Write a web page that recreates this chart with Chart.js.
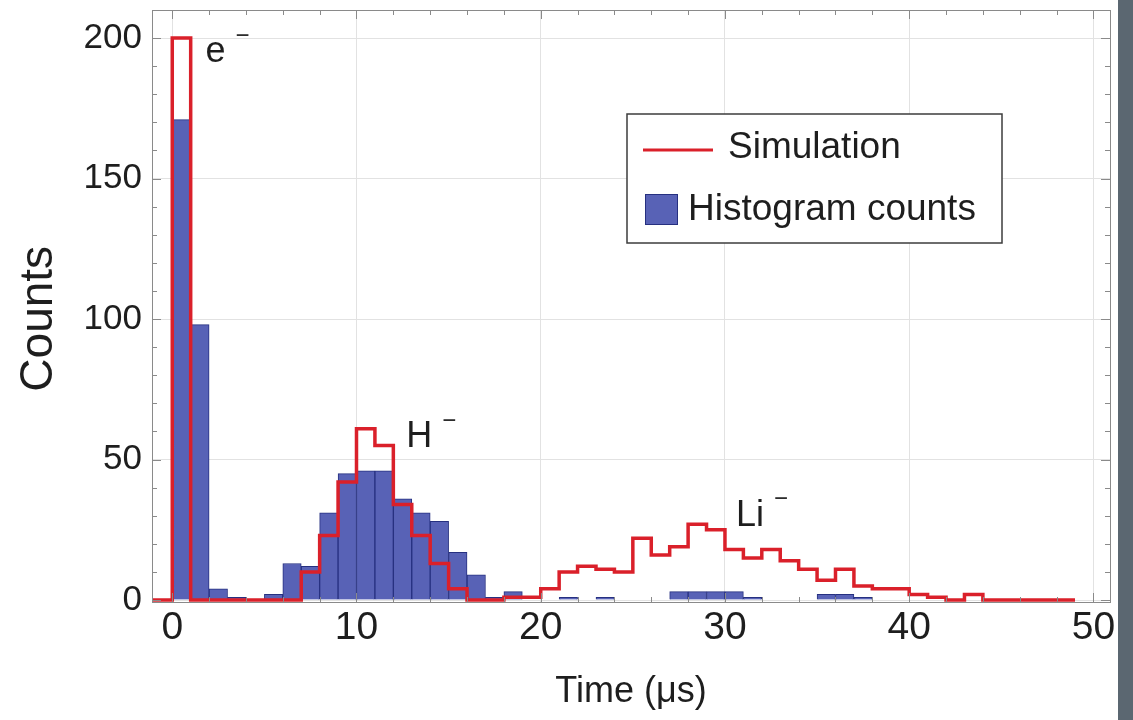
<!DOCTYPE html>
<html>
<head>
<meta charset="utf-8">
<script src="https://cdn.jsdelivr.net/npm/chart.js@4.4.1/dist/chart.umd.min.js"></script>
<style>
  html, body { margin: 0; padding: 0; background: #5b6771; }
  #wrap { width: 1118px; height: 720px; background: #fff; position: relative; }
</style>
</head>
<body>
<div id="wrap"><canvas id="tofChart"></canvas></div>
<script>
// 1 us wide bins, value i belongs to [binStarts[i], binStarts[i] + 1]
const binStarts = [0, 1, 2, 3, 4, 5, 6, 7, 8, 9, 10, 11, 12, 13, 14, 15, 16, 17, 18, 19,
  20, 21, 22, 23, 24, 25, 26, 27, 28, 29, 30, 31, 32, 33, 34, 35, 36, 37, 38, 39,
  40, 41, 42, 43, 44, 45, 46, 47, 48];
const histCounts = [171, 98, 4, 1, 0, 2, 13, 12, 31, 45, 46, 46, 36, 31, 28, 17, 9, 1, 3, 0,
  0, 1, 0, 1, 0, 0, 0, 3, 3, 3, 3, 1, 0, 0, 0, 2, 2, 1, 0, 0,
  0, 0, 0, 0, 0, 0, 0, 0, 0];
const simCounts = [200, 0, 0, 0, 0, 0, 0, 10, 23, 42, 61, 55, 34, 23, 13, 4, 0, 0, 1, 1,
  4, 10, 12, 11, 10, 22, 16, 19, 27, 25, 18, 15, 18, 14, 11, 7, 11, 5, 4, 4,
  2, 1, 0, 2, 0, 0, 0, 0, 0];
const simFrom = -2;   // simulation curve runs in from the left edge at zero
const simTo = 49;

const xTicks = [0, 2, 4, 6, 8, 10, 12, 14, 16, 18, 20, 22, 24, 26, 28, 30, 32, 34, 36, 38, 40, 42, 44, 46, 48, 50];
const yTicks = [0, 10, 20, 30, 40, 50, 60, 70, 80, 90, 100, 110, 120, 130, 140, 150, 160, 170, 180, 190, 200, 210];

const peakNames = ['e', 'H', 'Li'];
const peakX = [1.8, 12.7, 30.6];
const peakY = [195, 58, 30];

const RED = 'rgb(218, 32, 42)';
const BLUE = 'rgb(88, 98, 182)';
const NAVY = 'rgb(38, 48, 128)';
const FRAME = '#8a8a8a';
const FONT = '"Liberation Sans", Arial, sans-serif';

const histData = binStarts.map((b, i) => ({ x: b + 0.5, y: histCounts[i] }));
const simData = [{ x: simFrom, y: 0 }]
  .concat(binStarts.map((b, i) => ({ x: b, y: simCounts[i] })))
  .concat([{ x: simTo, y: 0 }]);

// frame with inward ticks, peak labels and the legend box
const framePlugin = {
  id: 'frame',
  afterDatasetsDraw(chart) {
    const { ctx, chartArea: a, scales } = chart;
    const xs = scales.x, ys = scales.y;
    ctx.save();
    ctx.strokeStyle = FRAME;
    ctx.lineWidth = 1;
    ctx.beginPath();
    xTicks.forEach(v => {
      const px = Math.round(xs.getPixelForValue(v)) + 0.5;
      const len = v % 10 === 0 ? 9 : 5;
      ctx.moveTo(px, a.bottom); ctx.lineTo(px, a.bottom - len);
      ctx.moveTo(px, a.top); ctx.lineTo(px, a.top + len);
    });
    yTicks.forEach(v => {
      const py = Math.round(ys.getPixelForValue(v)) + 0.5;
      const len = v % 50 === 0 ? 9 : 5;
      ctx.moveTo(a.left, py); ctx.lineTo(a.left + len, py);
      ctx.moveTo(a.right, py); ctx.lineTo(a.right - len, py);
    });
    ctx.stroke();
    ctx.strokeRect(a.left + 0.5, a.top + 0.5, a.right - a.left, a.bottom - a.top);

    // peak labels
    ctx.fillStyle = '#1e1e1e';
    ctx.textBaseline = 'middle';
    ctx.textAlign = 'left';
    peakNames.forEach((n, i) => {
      const px = xs.getPixelForValue(peakX[i]);
      const py = ys.getPixelForValue(peakY[i]);
      ctx.font = '36px ' + FONT;
      ctx.fillText(n, px, py);
      const w = ctx.measureText(n).width;
      ctx.font = '24px ' + FONT;
      ctx.fillText('\u2212', px + w + 10, py - 16);
    });

    // legend
    const lx = a.left + 475, ly = a.top + 104, lw = 375, lh = 129;
    ctx.fillStyle = '#fff';
    ctx.fillRect(lx, ly, lw, lh);
    ctx.strokeStyle = '#3c3c3c';
    ctx.lineWidth = 1.5;
    ctx.strokeRect(lx, ly, lw, lh);
    ctx.strokeStyle = RED;
    ctx.lineWidth = 3;
    ctx.beginPath();
    ctx.moveTo(lx + 16, ly + 36); ctx.lineTo(lx + 86, ly + 36);
    ctx.stroke();
    ctx.fillStyle = BLUE;
    ctx.fillRect(lx + 18, ly + 80, 33, 31);
    ctx.strokeStyle = NAVY;
    ctx.lineWidth = 1;
    ctx.strokeRect(lx + 18.5, ly + 80.5, 32, 30);
    ctx.fillStyle = '#1e1e1e';
    ctx.font = '37px ' + FONT;
    ctx.fillText(chart.data.datasets[0].label, lx + 101, ly + 34);
    ctx.fillText(chart.data.datasets[1].label, lx + 61, ly + 96);
    ctx.restore();
  }
};

new Chart(document.getElementById('tofChart'), {
  type: 'bar',
  data: {
    datasets: [{
      type: 'line',
      label: 'Simulation',
      data: simData,
      borderColor: RED,
      borderWidth: 3.5,
      stepped: 'before',
      pointRadius: 0,
      fill: false,
      order: 0
    }, {
      type: 'bar',
      label: 'Histogram counts',
      data: histData,
      backgroundColor: BLUE,
      borderColor: NAVY,
      borderWidth: 1,
      barPercentage: 1,
      categoryPercentage: 1,
      order: 1
    }]
  },
  options: {
    responsive: true,
    maintainAspectRatio: false,
    animation: false,
    layout: { padding: { top: 10, right: 8, left: 0, bottom: 0 } },
    plugins: {
      legend: { display: false },
      tooltip: { enabled: false }
    },
    scales: {
      x: {
        type: 'linear',
        min: -1.1,
        max: 50.9,
        offset: false,
        afterBuildTicks: s => { s.ticks = xTicks.map(v => ({ value: v })); },
        afterFit: s => { s.height = 118; s.paddingLeft = 0; s.paddingRight = 0; },
        grid: {
          offset: false,
          drawTicks: false,
          color: c => (c.tick && c.tick.value % 10 === 0) ? '#e2e2e2' : 'rgba(0,0,0,0)'
        },
        border: { display: false },
        ticks: {
          autoSkip: false,
          maxRotation: 0,
          padding: 3,
          color: '#1e1e1e',
          font: { family: FONT, size: 39 },
          callback: v => v % 10 === 0 ? v : ''
        },
        title: {
          display: true,
          text: 'Time (\u03bcs)',
          color: '#1e1e1e',
          font: { family: FONT, size: 36 },
          padding: { top: 0, bottom: 6 }
        }
      },
      y: {
        min: -0.7,
        max: 210,
        afterBuildTicks: s => { s.ticks = yTicks.map(v => ({ value: v })); },
        afterFit: s => { s.width = 152; s.paddingTop = 0; s.paddingBottom = 0; },
        grid: {
          drawTicks: false,
          color: c => (c.tick && c.tick.value % 50 === 0) ? '#e2e2e2' : 'rgba(0,0,0,0)'
        },
        border: { display: false },
        ticks: {
          autoSkip: false,
          padding: 10,
          color: '#1e1e1e',
          font: { family: FONT, size: 35 },
          callback: v => v % 50 === 0 ? v : ''
        },
        title: {
          display: true,
          text: 'Counts  ',
          color: '#1e1e1e',
          font: { family: FONT, size: 46 },
          padding: { top: 12, bottom: 0 }
        }
      }
    }
  },
  plugins: [framePlugin]
});
</script>
</body>
</html>
